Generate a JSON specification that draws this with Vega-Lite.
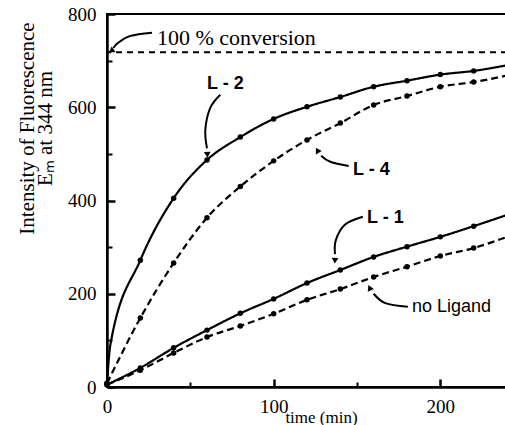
{
  "$schema": "https://vega.github.io/schema/vega-lite/v6.json",
  "autosize": "none",
  "width": 400,
  "height": 373,
  "padding": {"left": 107, "top": 14, "right": 0, "bottom": 38},
  "background": "white",
  "config": {
    "view": {"stroke": "black", "strokeWidth": 2},
    "axis": {"grid": false, "domainColor": "black", "tickColor": "black", "labelColor": "black", "titleColor": "black", "labelFlush": false}
  },
  "datasets": {
    "curves": [
      {"series": "L-2", "t": 0, "v": 8, "measured": true},
      {"series": "L-2", "t": 2, "v": 90, "measured": false},
      {"series": "L-2", "t": 20, "v": 272, "measured": true},
      {"series": "L-2", "t": 40, "v": 405, "measured": true},
      {"series": "L-2", "t": 60, "v": 487, "measured": true},
      {"series": "L-2", "t": 80, "v": 536, "measured": true},
      {"series": "L-2", "t": 100, "v": 575, "measured": true},
      {"series": "L-2", "t": 120, "v": 601, "measured": true},
      {"series": "L-2", "t": 140, "v": 622, "measured": true},
      {"series": "L-2", "t": 160, "v": 644, "measured": true},
      {"series": "L-2", "t": 180, "v": 657, "measured": true},
      {"series": "L-2", "t": 200, "v": 670, "measured": true},
      {"series": "L-2", "t": 220, "v": 678, "measured": true},
      {"series": "L-2", "t": 240, "v": 690, "measured": false},
      {"series": "L-4", "t": 0, "v": 8, "measured": true},
      {"series": "L-4", "t": 20, "v": 148, "measured": true},
      {"series": "L-4", "t": 40, "v": 266, "measured": true},
      {"series": "L-4", "t": 60, "v": 363, "measured": true},
      {"series": "L-4", "t": 80, "v": 430, "measured": true},
      {"series": "L-4", "t": 100, "v": 485, "measured": true},
      {"series": "L-4", "t": 120, "v": 530, "measured": true},
      {"series": "L-4", "t": 140, "v": 566, "measured": true},
      {"series": "L-4", "t": 160, "v": 605, "measured": true},
      {"series": "L-4", "t": 180, "v": 624, "measured": true},
      {"series": "L-4", "t": 200, "v": 644, "measured": true},
      {"series": "L-4", "t": 220, "v": 654, "measured": true},
      {"series": "L-4", "t": 240, "v": 668, "measured": false},
      {"series": "L-1", "t": 0, "v": 5, "measured": true},
      {"series": "L-1", "t": 20, "v": 41, "measured": true},
      {"series": "L-1", "t": 40, "v": 84, "measured": true},
      {"series": "L-1", "t": 60, "v": 122, "measured": true},
      {"series": "L-1", "t": 80, "v": 158, "measured": true},
      {"series": "L-1", "t": 100, "v": 189, "measured": true},
      {"series": "L-1", "t": 120, "v": 223, "measured": true},
      {"series": "L-1", "t": 140, "v": 251, "measured": true},
      {"series": "L-1", "t": 160, "v": 279, "measured": true},
      {"series": "L-1", "t": 180, "v": 301, "measured": true},
      {"series": "L-1", "t": 200, "v": 322, "measured": true},
      {"series": "L-1", "t": 220, "v": 345, "measured": true},
      {"series": "L-1", "t": 240, "v": 369, "measured": false},
      {"series": "no Ligand", "t": 0, "v": 5, "measured": true},
      {"series": "no Ligand", "t": 20, "v": 36, "measured": true},
      {"series": "no Ligand", "t": 40, "v": 73, "measured": true},
      {"series": "no Ligand", "t": 60, "v": 107, "measured": true},
      {"series": "no Ligand", "t": 80, "v": 131, "measured": true},
      {"series": "no Ligand", "t": 100, "v": 157, "measured": true},
      {"series": "no Ligand", "t": 120, "v": 187, "measured": true},
      {"series": "no Ligand", "t": 140, "v": 210, "measured": true},
      {"series": "no Ligand", "t": 160, "v": 236, "measured": true},
      {"series": "no Ligand", "t": 180, "v": 258, "measured": true},
      {"series": "no Ligand", "t": 200, "v": 281, "measured": true},
      {"series": "no Ligand", "t": 220, "v": 298, "measured": true},
      {"series": "no Ligand", "t": 240, "v": 322, "measured": false}
    ],
    "arrows": [
      {"arrow": "conv", "k": 0, "t": 27, "v": 760},
      {"arrow": "conv", "k": 1, "t": 14, "v": 753},
      {"arrow": "conv", "k": 2, "t": 6.6, "v": 738},
      {"arrow": "conv", "k": 3, "t": 3.8, "v": 727},
      {"arrow": "L-2", "k": 0, "t": 68, "v": 627},
      {"arrow": "L-2", "k": 1, "t": 62, "v": 599},
      {"arrow": "L-2", "k": 2, "t": 59, "v": 552},
      {"arrow": "L-2", "k": 3, "t": 60, "v": 512},
      {"arrow": "L-4", "k": 0, "t": 145, "v": 474},
      {"arrow": "L-4", "k": 1, "t": 134, "v": 483},
      {"arrow": "L-4", "k": 2, "t": 128.5, "v": 496},
      {"arrow": "L-1", "k": 0, "t": 153.5, "v": 365},
      {"arrow": "L-1", "k": 1, "t": 142.7, "v": 348},
      {"arrow": "L-1", "k": 2, "t": 137.3, "v": 315},
      {"arrow": "L-1", "k": 3, "t": 136.8, "v": 285},
      {"arrow": "noL", "k": 0, "t": 180.5, "v": 172},
      {"arrow": "noL", "k": 1, "t": 167, "v": 180},
      {"arrow": "noL", "k": 2, "t": 160, "v": 200}
    ],
    "heads": [
      {"arrow": "conv", "t": 3, "v": 722},
      {"arrow": "L-2", "t": 60.2, "v": 500},
      {"arrow": "L-4", "t": 126.5, "v": 506},
      {"arrow": "L-1", "t": 136.8, "v": 273},
      {"arrow": "noL", "t": 157.8, "v": 211}
    ],
    "serifLabels": [
      {"text": "100 % conversion", "t": 30, "v": 749}
    ],
    "sansLabels": [
      {"text": "L - 2", "t": 60, "v": 650, "weight": "b"},
      {"text": "L - 4", "t": 147.6, "v": 466, "weight": "b"},
      {"text": "L - 1", "t": 156, "v": 363, "weight": "b"},
      {"text": "no Ligand", "t": 183, "v": 172, "weight": "n"}
    ],
    "conversion": [{"v": 718}]
  },
  "layer": [
    {
      "data": {"name": "conversion"},
      "mark": {"type": "rule", "color": "black", "strokeWidth": 1.8, "strokeDash": [6, 5]},
      "encoding": {
        "y": {"field": "v", "type": "quantitative", "scale": {"domain": [0, 800], "nice": false}, "axis": null}
      }
    },
    {
      "data": {"name": "curves"},
      "mark": {"type": "line", "interpolate": "monotone", "strokeWidth": 2.2, "color": "black"},
      "encoding": {
        "x": {"field": "t", "type": "quantitative", "scale": {"domain": [0, 240], "nice": false},
          "axis": {"orient": "bottom", "values": [0, 100, 200], "tickSize": -8, "tickWidth": 2.5, "domainWidth": 2.5,
            "labelFont": "Liberation Serif", "labelFontSize": 19, "labelPadding": 18,
            "title": "time (min)", "titleFont": "Liberation Serif", "titleFontSize": 17, "titleFontWeight": "normal",
            "titleX": 214, "titleY": 30, "titleAlign": "center", "titleBaseline": "middle"}},
        "y": {"field": "v", "type": "quantitative", "scale": {"domain": [0, 800], "nice": false},
          "axis": {"orient": "left", "values": [0, 200, 400, 600, 800], "tickSize": -8, "tickWidth": 2.5, "domainWidth": 2.5,
            "labelFont": "Liberation Serif", "labelFontSize": 19, "labelPadding": 19,
            "title": ["Intensity of Fluorescence", "Eₘ at 344 nm"], "titleFont": "Liberation Serif", "titleFontSize": 21,
            "titleFontWeight": "normal", "titleX": -74, "titleY": 114, "titleAngle": -90, "titleAlign": "center",
            "titleBaseline": "alphabetic", "titleLineHeight": 18}},
        "detail": {"field": "series"},
        "strokeDash": {"field": "series", "type": "nominal",
          "scale": {"domain": ["L-2", "L-4", "L-1", "no Ligand"], "range": [[1, 0], [7, 4], [1, 0], [7, 4]]}, "legend": null}
      }
    },
    {
      "data": {"name": "curves"},
      "transform": [{"filter": "datum.measured"}],
      "mark": {"type": "point", "filled": true, "color": "black", "size": 30, "opacity": 1},
      "encoding": {
        "x": {"field": "t", "type": "quantitative", "scale": {"domain": [0, 240], "nice": false},
          "axis": {"orient": "top", "offset": -373, "values": [50, 150], "tickSize": 5, "tickWidth": 2, "labels": false, "domain": false, "title": null}},
        "y": {"field": "v", "type": "quantitative", "scale": {"domain": [0, 800], "nice": false},
          "axis": {"orient": "right", "offset": -400, "values": [100, 300, 500, 700], "tickSize": 5, "tickWidth": 2, "labels": false, "domain": false, "title": null}}
      }
    },
    {
      "data": {"name": "arrows"},
      "mark": {"type": "line", "interpolate": "cardinal", "strokeWidth": 2, "color": "black"},
      "encoding": {
        "x": {"field": "t", "type": "quantitative", "scale": {"domain": [0, 240], "nice": false}, "axis": null},
        "y": {"field": "v", "type": "quantitative", "scale": {"domain": [0, 800], "nice": false}, "axis": null},
        "detail": {"field": "arrow"},
        "order": {"field": "k"}
      }
    },
    {
      "data": {"name": "heads"},
      "transform": [{"filter": "datum.arrow == 'conv'"}],
      "mark": {"type": "point", "shape": "triangle", "filled": true, "color": "black", "size": 45, "angle": 234, "opacity": 1},
      "encoding": {
        "x": {"field": "t", "type": "quantitative", "scale": {"domain": [0, 240], "nice": false}, "axis": null},
        "y": {"field": "v", "type": "quantitative", "scale": {"domain": [0, 800], "nice": false}, "axis": null}
      }
    },
    {
      "data": {"name": "heads"},
      "transform": [{"filter": "datum.arrow == 'L-2'"}],
      "mark": {"type": "point", "shape": "triangle", "filled": true, "color": "black", "size": 45, "angle": 178, "opacity": 1},
      "encoding": {
        "x": {"field": "t", "type": "quantitative", "scale": {"domain": [0, 240], "nice": false}, "axis": null},
        "y": {"field": "v", "type": "quantitative", "scale": {"domain": [0, 800], "nice": false}, "axis": null}
      }
    },
    {
      "data": {"name": "heads"},
      "transform": [{"filter": "datum.arrow == 'L-4'"}],
      "mark": {"type": "point", "shape": "triangle", "filled": true, "color": "black", "size": 45, "angle": 330, "opacity": 1},
      "encoding": {
        "x": {"field": "t", "type": "quantitative", "scale": {"domain": [0, 240], "nice": false}, "axis": null},
        "y": {"field": "v", "type": "quantitative", "scale": {"domain": [0, 800], "nice": false}, "axis": null}
      }
    },
    {
      "data": {"name": "heads"},
      "transform": [{"filter": "datum.arrow == 'L-1'"}],
      "mark": {"type": "point", "shape": "triangle", "filled": true, "color": "black", "size": 45, "angle": 182, "opacity": 1},
      "encoding": {
        "x": {"field": "t", "type": "quantitative", "scale": {"domain": [0, 240], "nice": false}, "axis": null},
        "y": {"field": "v", "type": "quantitative", "scale": {"domain": [0, 800], "nice": false}, "axis": null}
      }
    },
    {
      "data": {"name": "heads"},
      "transform": [{"filter": "datum.arrow == 'noL'"}],
      "mark": {"type": "point", "shape": "triangle", "filled": true, "color": "black", "size": 45, "angle": 335, "opacity": 1},
      "encoding": {
        "x": {"field": "t", "type": "quantitative", "scale": {"domain": [0, 240], "nice": false}, "axis": null},
        "y": {"field": "v", "type": "quantitative", "scale": {"domain": [0, 800], "nice": false}, "axis": null}
      }
    },
    {
      "data": {"name": "serifLabels"},
      "mark": {"type": "text", "align": "left", "baseline": "middle", "font": "Liberation Serif", "fontSize": 22, "letterSpacing": 1, "color": "black"},
      "encoding": {
        "x": {"field": "t", "type": "quantitative", "scale": {"domain": [0, 240], "nice": false}, "axis": null},
        "y": {"field": "v", "type": "quantitative", "scale": {"domain": [0, 800], "nice": false}, "axis": null},
        "text": {"field": "text"}
      }
    },
    {
      "data": {"name": "sansLabels"},
      "transform": [{"filter": "datum.weight == 'b'"}],
      "mark": {"type": "text", "align": "left", "baseline": "middle", "font": "Liberation Sans", "fontSize": 18, "letterSpacing": 1.5, "fontWeight": "bold", "color": "black"},
      "encoding": {
        "x": {"field": "t", "type": "quantitative", "scale": {"domain": [0, 240], "nice": false}, "axis": null},
        "y": {"field": "v", "type": "quantitative", "scale": {"domain": [0, 800], "nice": false}, "axis": null},
        "text": {"field": "text"}
      }
    },
    {
      "data": {"name": "sansLabels"},
      "transform": [{"filter": "datum.weight == 'n'"}],
      "mark": {"type": "text", "align": "left", "baseline": "middle", "font": "Liberation Sans", "fontSize": 18, "letterSpacing": 1.5, "color": "black"},
      "encoding": {
        "x": {"field": "t", "type": "quantitative", "scale": {"domain": [0, 240], "nice": false}, "axis": null},
        "y": {"field": "v", "type": "quantitative", "scale": {"domain": [0, 800], "nice": false}, "axis": null},
        "text": {"field": "text"}
      }
    }
  ],
  "resolve": {"axis": {"x": "independent", "y": "independent"}}
}
